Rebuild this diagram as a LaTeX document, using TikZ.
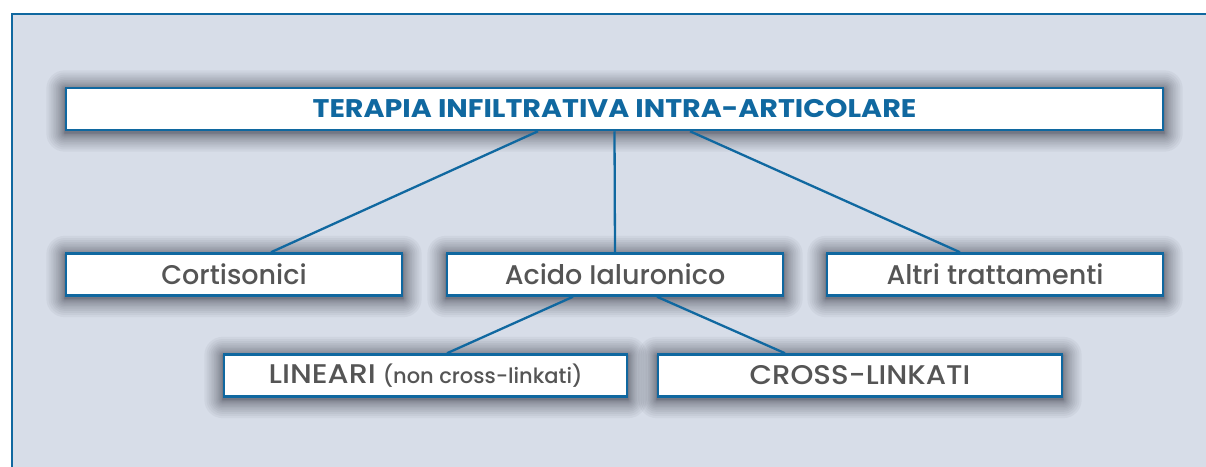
\documentclass[tikz,border=0pt]{standalone}
\usepackage{fontspec}
\setmainfont{Poppins}[UprightFont={* Medium}, BoldFont={* Bold}]
\definecolor{bgc}{RGB}{215,221,232}
\definecolor{bluec}{RGB}{16,104,160}
\definecolor{txtc}{RGB}{85,85,85}
\definecolor{shadc}{RGB}{40,42,55}
\pgfdeclarelayer{back}
\pgfdeclarelayer{shad}
\pgfsetlayers{back,shad,main}
\newcommand{\softshadow}[1]{%
  \begin{pgfonlayer}{shad}
    \foreach \i in {1,...,16}{%
      \pgfmathsetmacro{\e}{0.072*\i*\i}
      \fill[shadc, opacity=0.048, rounded corners=\e pt]
        ([xshift=-\e pt, yshift=-\e pt-2pt]#1.south west) rectangle
        ([xshift=\e pt, yshift=\e pt-2pt]#1.north east);
    }
  \end{pgfonlayer}}
\begin{document}
\begin{tikzpicture}[x=1pt,y=-1pt,
  box/.style={draw=bluec, line width=2.5pt, fill=white,
    inner sep=0pt, text=txtc, font=\fontsize{27}{30}\selectfont, minimum height=42pt},
  conn/.style={draw=bluec, line width=2.3pt}]
\useasboundingbox (0,0) rectangle (1206,466);
\begin{pgfonlayer}{back}
\fill[white] (0,0) rectangle (1206,466);
\fill[bgc] (12,14) rectangle (1212,472);
\draw[bluec, line width=2.6pt] (12,472) -- (12,14) -- (1212,14);
\end{pgfonlayer}
\node[box, minimum width=1097pt, text=bluec, font=\fontsize{25.5}{28}\selectfont\bfseries\addfontfeatures{FakeStretch=1.12}] (title) at (614.5,109) {TERAPIA INFILTRATIVA INTRA-ARTICOLARE};
\node[box, minimum width=336pt] (cort) at (234,274.5) {Cortisonici};
\node[box, minimum width=336pt] (acido) at (615,274.5) {Acido Ialuronico};
\node[box, minimum width=336pt] (altri) at (995,274.5) {Altri trattamenti};
\node[box, minimum width=403pt] (lin) at (425.5,375.5) {{\addfontfeatures{FakeStretch=1.12}LINEARI} {\fontsize{21}{24}\selectfont(non cross-linkati)}};
\node[box, minimum width=404pt, font=\fontsize{27}{30}\selectfont\addfontfeatures{FakeStretch=1.08}] (cross) at (860,375.5) {CROSS-LINKATI};
\softshadow{title}
\softshadow{cort}
\softshadow{acido}
\softshadow{altri}
\softshadow{lin}
\softshadow{cross}
\draw[conn] ([xshift=-76.5pt]title.south) -- ([xshift=37pt]cort.north);
\draw[conn] (title.south) -- (acido.north);
\draw[conn] ([xshift=75.5pt]title.south) -- ([xshift=-35pt]altri.north);
\draw[conn] ([xshift=-42pt]acido.south) -- ([xshift=21.5pt]lin.north);
\draw[conn] ([xshift=42pt]acido.south) -- ([xshift=-75pt]cross.north);
\end{tikzpicture}
\end{document}
